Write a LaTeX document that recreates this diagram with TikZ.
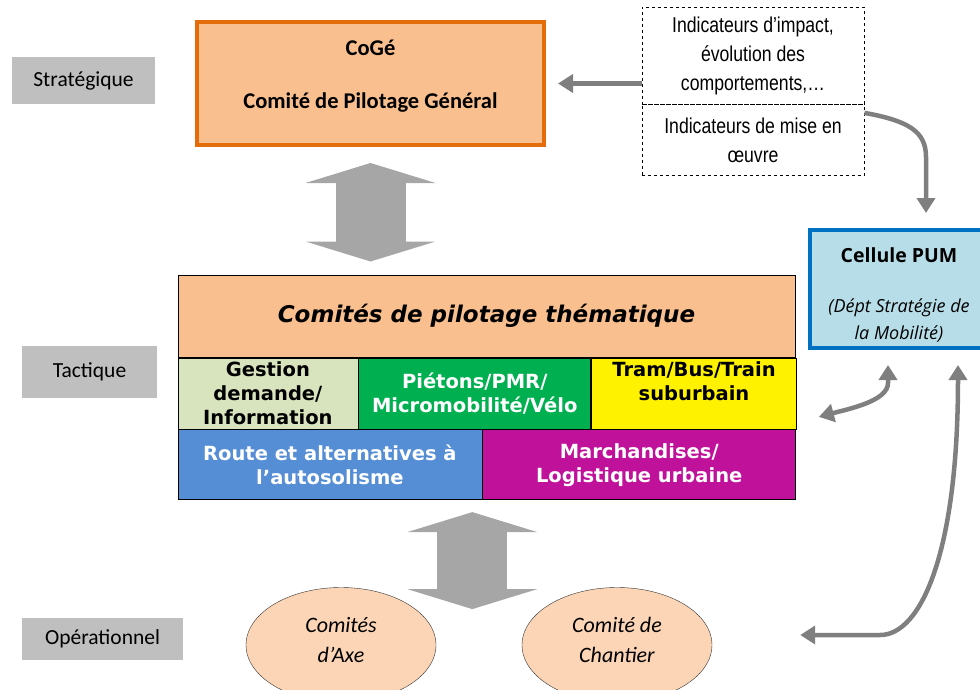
\documentclass[tikz,border=0pt]{standalone}
\usepackage{fontspec}
\setmainfont{Carlito}
\newfontfamily\verdanafont{DejaVu Sans}
\newfontfamily\narrowfont[FakeStretch=0.82]{Liberation Sans}
\newfontfamily\opensansfont{Open Sans}
\usetikzlibrary{arrows.meta}
\usetikzlibrary{positioning,shapes,fit}
\definecolor{labelgray}{HTML}{BFBFBF}
\definecolor{peach}{HTML}{F9BF8F}
\definecolor{orangeline}{HTML}{E46C0A}
\definecolor{olivelight}{HTML}{D7E4BD}
\definecolor{greenbox}{HTML}{00B050}
\definecolor{bluebox}{HTML}{558ED5}
\definecolor{magentabox}{HTML}{C0119B}
\definecolor{cellblue}{HTML}{B7DEE8}
\definecolor{cellline}{HTML}{0070C0}
\definecolor{ovalfill}{HTML}{FBD5B5}
\definecolor{blockgray}{HTML}{A6A6A6}
\definecolor{linegray}{HTML}{7F7F7F}

\begin{document}
\begin{tikzpicture}[%
        x=1pt, y=-1pt,
        every node/.style={inner sep=2pt, align=center},
        levelbox/.style={rectangle, fill=labelgray, font=\fontsize{21.5}{26}\selectfont},
        cellbox/.style={rectangle, draw=black, line width=0.8pt, minimum height=71,
          font=\verdanafont\bfseries\fontsize{19.5}{24}\selectfont},
        oval/.style={ellipse, draw=black!80, fill=ovalfill, minimum width=190, text depth=10pt,
          minimum height=115, inner sep=0pt, font=\itshape\fontsize{22}{30}\selectfont},
        bigarrow/.style={blockgray, line width=70pt,
          {Triangle[width=130pt,length=20pt,line width=0pt]}-{Triangle[width=130pt,length=20pt,line width=0pt]}},
        thinarrow/.style={linegray, line width=4.5pt, -{Triangle[width=18pt,length=15pt]}},
        thinboth/.style={thinarrow, {Triangle[width=18pt,length=15pt]}-{Triangle[width=18pt,length=15pt]}},
        node distance=0pt
      ]
      \useasboundingbox (0,0) rectangle (980,690);
      % levels
      \node [] (0) [levelbox, minimum width=143, minimum height=47] at (83.5,80.5) {Stratégique};
      \node [] (1) [levelbox, minimum width=135, minimum height=52] at (89.5,372) {Tactique};
      \node [] (2) [levelbox, minimum width=161, minimum height=42] at (102.5,639) {Opérationnel};
      % boxes
      \node [] (3) [rectangle, draw=orangeline, line width=4pt, fill=peach, minimum width=347,
        minimum height=123, text depth=19.5pt, font=\bfseries\fontsize{22.5}{27}\selectfont] at (370.5,83.5)
        {CoGé\\[26pt]Comité de Pilotage Général};
      \node [] (4) [rectangle, draw, dashed, line width=0.9pt, minimum width=222, minimum height=97,
        font=\narrowfont\fontsize{21.5}{29}\selectfont] at (753,55.5)
        {Indicateurs d’impact,\\évolution des\\comportements,…};
      \node [] (5) [rectangle, draw, dashed, line width=0.9pt, minimum width=222, minimum height=71,
        below=0pt of 4, font=\narrowfont\fontsize{21.5}{29}\selectfont] {Indicateurs de mise en\\œuvre};
      \node [] (6) [rectangle, draw=cellline, line width=4pt, fill=cellblue, minimum width=178,
        minimum height=118, font=\opensansfont\fontsize{18}{27}\selectfont] at (899,289)
        {\mbox{}\\{\bfseries\fontsize{19.5}{22}\selectfont Cellule PUM}\\[23pt]\itshape (Dépt Stratégie de\\\itshape la Mobilité)};
      \node [] (7) [rectangle, draw=black, line width=1pt, fill=peach, minimum width=617, minimum height=82,
        font=\verdanafont\bfseries\itshape\fontsize{23}{28}\selectfont] at (486.5,316)
        {Comités de pilotage thématique};
      \node [] (8) [cellbox, fill=olivelight, minimum width=180, below right=0pt and 0pt of 7.south west]
        {Gestion\\demande/\\Information};
      \node [] (9) [cellbox, fill=greenbox, text=white, minimum width=232, right=0pt of 8]
        {Piétons/PMR/\\Micromobilité/Vélo};
      \node [] (10) [cellbox, fill=yellow, minimum width=205, right=0pt of 9]
        {Tram/Bus/Train\\suburbain\\ \mbox{}};
      \node [] (11) [cellbox, fill=bluebox, text=white, minimum width=304, minimum height=70,
        below right=0pt and 0pt of 8.south west] {Route et alternatives à\\l’autosolisme};
      \node [] (12) [cellbox, fill=magentabox, text=white, minimum width=313, minimum height=70,
        right=0pt of 11] {Marchandises/\\Logistique urbaine};
      \node [] (13) [oval] at (341,645) {Comités\\d’Axe};
      \node [] (14) [oval] at (617,645) {Comité de\\Chantier};
      % arrows
      \draw [bigarrow] ([yshift=-16pt]3.south) -- ([yshift=13pt]3.south |- 7.north);
      \draw [bigarrow] ([xshift=-10pt,yshift=-12pt]11.south east) -- ++(0,97);
      \draw [thinarrow] (4.west |- 3.east) -- ([xshift=12pt]3.east);
      \draw [thinarrow] ([yshift=27.5pt]5.east) .. controls +(45,8) and +(0,-25) ..
        ([xshift=27pt,yshift=71pt]6.north) -- ([xshift=27pt,yshift=15pt]6.north);
      \draw [thinboth] ([xshift=-11pt,yshift=-15pt]6.south) -- ++(0,18) .. controls +(0,18) and +(30,-8) ..
        ([xshift=22pt,yshift=-23.5pt]10.east);
      \draw [thinboth] ([xshift=59pt,yshift=-15pt]6.south) .. controls +(0,190) and +(40,0) ..
        ([xshift=168pt,yshift=10pt]14.east) -- ([xshift=88pt,yshift=10pt]14.east);
     \end{tikzpicture}
\end{document}
